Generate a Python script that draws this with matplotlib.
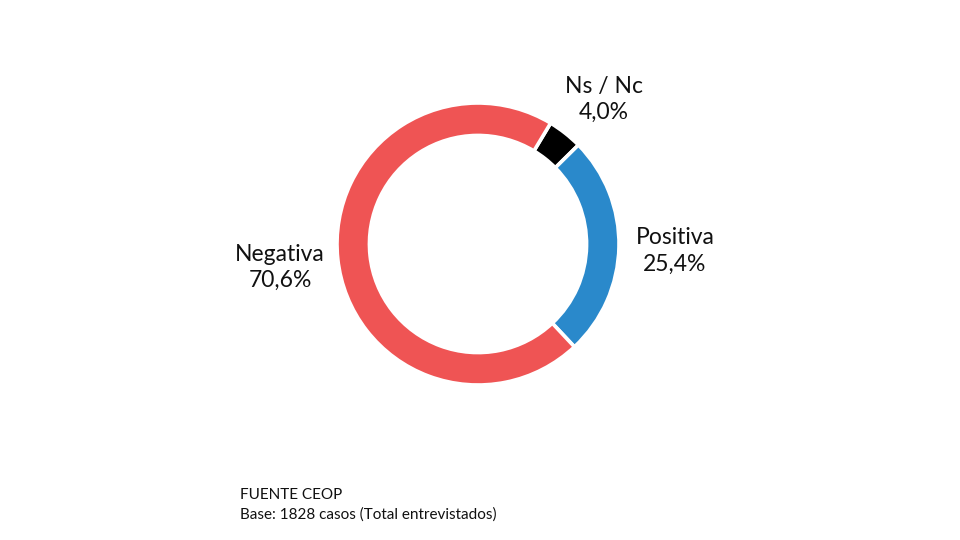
import matplotlib
matplotlib.use("Agg")
import matplotlib.pyplot as plt
import numpy as np

categories = ["Ns / Nc", "Positiva", "Negativa"]
values = [4.0, 25.4, 70.6]
value_labels = ["4,0%", "25,4%", "70,6%"]
colors = ["#000000", "#2A89CB", "#EF5454"]
footer = ["FUENTE CEOP", "Base: 1828 casos (Total entrevistados)"]

plt.rcParams['font.family'] = ['Lato', 'DejaVu Sans']

W, H = 960, 540
fig = plt.figure(figsize=(9.6, 5.4), dpi=100)
cx, cy, R = 478, 244, 141
ax = fig.add_axes([(cx - R) / W, (H - cy - R) / H, 2 * R / W, 2 * R / H])

wedges, _ = ax.pie(values, colors=colors, startangle=59, counterclock=False,
                   radius=1.0,
                   wedgeprops=dict(width=0.23, edgecolor="white", linewidth=2.6))
ax.set_xlim(-1, 1)
ax.set_ylim(-1, 1)
ax.set_aspect("equal")
ax.axis("off")

# label centres (in units of the outer radius)
label_pos = [(0.894, 1.028), (1.397, -0.05), (-1.404, -0.167)]
for cat, vl, (x, y) in zip(categories, value_labels, label_pos):
    ax.text(x, y, f"{cat}\n{vl}", ha="center", va="center", fontsize=16.5,
            color="#111111", linespacing=1.3, clip_on=False)

fig.text(240 / W, 1 - 499 / H, footer[0], fontsize=11, va="baseline", ha="left", color="#111111")
fig.text(240 / W, 1 - 519 / H, footer[1], fontsize=11, va="baseline", ha="left", color="#111111")

fig.savefig("out.png", dpi=100, facecolor="white")
